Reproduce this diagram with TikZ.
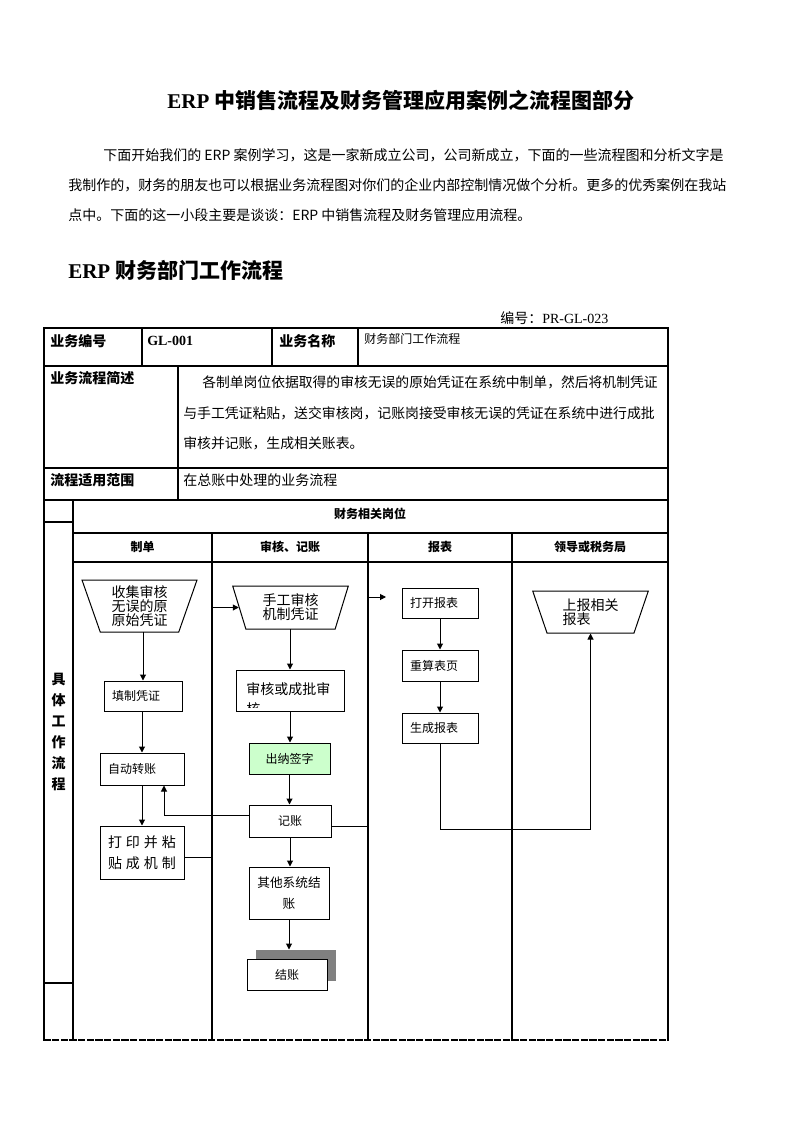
\documentclass[tikz,border=0pt]{standalone}
\usepackage{fontspec}
\setmainfont{Liberation Serif}
\newfontfamily\cjk{Noto Sans CJK SC}
\usetikzlibrary{shapes.geometric,arrows.meta,shadows}
\newdimen\px \px=0.75pt
\definecolor{cashiergreen}{HTML}{CCFFCC}
\definecolor{shadowgray}{HTML}{808080}
\begin{document}
\begin{tikzpicture}[x=0.75pt,y=-0.75pt,line cap=rect,
	rule/.style={line width=0.8pt},
	box/.style={draw,line width=0.75pt,fill=white,inner sep=0pt,align=center,font=\cjk\fontsize{9pt}{15.75pt}\selectfont},
	lbox/.style={box,align=left,inner xsep=8\px},
	trap/.style={draw,line width=0.75pt,trapezium,shape border rotate=180,trapezium stretches body,inner sep=0pt,align=center,font=\cjk\fontsize{10.5pt}{10.5pt}\selectfont},
	arr/.style={line width=0.75pt,-{Triangle[length=4.5pt,width=4.5pt]}},
	cell/.style={anchor=west,inner sep=0pt,font=\cjk\fontsize{10.5pt}{12pt}\selectfont},
	head/.style={cell,font=\cjk\bfseries\fontsize{10.5pt}{12pt}\selectfont},
	lane/.style={inner sep=0pt,font=\cjk\bfseries\fontsize{9pt}{11pt}\selectfont}]
	\useasboundingbox (0,0) rectangle (794,1123);
	% title and text
	\node[inner sep=0pt,font=\bfseries\fontsize{15.75pt}{18pt}\selectfont] (title) at (401,100) {ERP {\cjk 中销售流程及财务管理应用案例之流程图部分}};
	\node[cell] (para1) at (103,155) {下面开始我们的 ERP 案例学习，这是一家新成立公司，公司新成立，下面的一些流程图和分析文字是};
	\node[cell] (para2) at (68,185) {我制作的，财务的朋友也可以根据业务流程图对你们的企业内部控制情况做个分析。更多的优秀案例在我站};
	\node[cell] (para3) at (68,215) {点中。下面的这一小段主要是谈谈：ERP 中销售流程及财务管理应用流程。};
	\node[anchor=west,inner sep=0pt,font=\bfseries\fontsize{15.75pt}{18pt}\selectfont] (heading) at (68,270) {ERP {\cjk 财务部门工作流程}};
	\node[cell] (docno) at (500,318) {编号：{\rmfamily PR-GL-023}};
	% table rules
	\draw[rule] (44,1040) -- (44,328) -- (668,328) -- (668,1040);
	\foreach \y in {366,468,500} \draw[rule] (44,\y) -- (668,\y);
	\foreach \y in {533,562} \draw[rule] (73,\y) -- (668,\y);
	\foreach \y in {522,983} \draw[rule] (44,\y) -- (73,\y);
	\foreach \x in {142,272,358} \draw[rule] (\x,328) -- (\x,366);
	\draw[rule] (178,366) -- (178,500);
	\draw[rule] (73,500) -- (73,1040);
	\foreach \x in {212,368,512} \draw[rule] (\x,533) -- (\x,1040);
	\draw[rule,dash pattern=on 4.5pt off 2pt] (44,1040) -- (668,1040);
	% table texts
	\node[head] (noh) at (50,341) {业务编号};
	\node[cell,font=\bfseries\fontsize{10.5pt}{12pt}\selectfont] (no) at (147,341) {GL-001};
	\node[head] (nameh) at (279,341) {业务名称};
	\node[cell,font=\cjk\fontsize{9pt}{11pt}\selectfont] (name) at (364,339) {财务部门工作流程};
	\node[head] (briefh) at (50,378) {业务流程简述};
	\node[cell,font=\cjk\fontsize{10.35pt}{12pt}\selectfont] (brief1) at (202,382) {各制单岗位依据取得的审核无误的原始凭证在系统中制单，然后将机制凭证};
	\node[cell,font=\cjk\fontsize{10.4pt}{12pt}\selectfont] (brief2) at (183,413) {与手工凭证粘贴，送交审核岗，记账岗接受审核无误的凭证在系统中进行成批};
	\node[cell,font=\cjk\fontsize{10.4pt}{12pt}\selectfont] (brief3) at (183,443) {审核并记账，生成相关账表。};
	\node[head] (scopeh) at (50,480) {流程适用范围};
	\node[cell] (scopet) at (183,480) {在总账中处理的业务流程};
	\node[lane] (posts) at (370,514) {财务相关岗位};
	\node[lane] (lane1) at (142.5,547) {制单};
	\node[lane] (lane2) at (290,547) {审核、记账};
	\node[lane] (lane3) at (440,547) {报表};
	\node[lane] (lane4) at (590,547) {领导或税务局};
	\node[lane,align=center,font=\cjk\bfseries\fontsize{10.5pt}{15.75pt}\selectfont] (work) at (58.5,732) {具\\体\\工\\作\\流\\程};
	% 制单
	\node[trap,minimum width=115\px,minimum height=52\px,trapezium left angle=66,trapezium right angle=66] (collect) at (139.5,606) {收集审核\\无误的原\\原始凭证};
	\node[lbox,text width=62\px,minimum height=30\px] (fill) at (143,696) {填制凭证};
	\node[lbox,text width=68\px,minimum height=32\px] (auto) at (142,769) {自动转账};
	\node[box,minimum width=84\px,minimum height=53\px,font=\cjk\fontsize{10.5pt}{15.75pt}\selectfont] (print) at (142,852.5) {打\hspace{3pt}印\hspace{3pt}并\hspace{3pt}粘\\贴\hspace{3pt}成\hspace{3pt}机\hspace{3pt}制};
	% 审核、记账
	\node[trap,minimum width=115.6\px,minimum height=43\px,trapezium left angle=64,trapezium right angle=64] (manual) at (290.5,607.5) {手工审核\\机制凭证};
	\node[box,minimum width=108\px,minimum height=41\px] (verify) at (290,690.5) {};
	\begin{scope}
		\clip ([yshift=3pt]verify.south west) rectangle (verify.north east);
		\node[anchor=north west,inner sep=0pt,align=left,font=\cjk\fontsize{10.5pt}{15pt}\selectfont] (verifytext) at ([xshift=8pt,yshift=-9.5pt]verify.north west) {审核或成批审\\核};
	\end{scope}
	\node[box,fill=cashiergreen,minimum width=81\px,minimum height=31\px] (cashier) at (289.5,758.5) {出纳签字};
	\node[box,minimum width=82\px,minimum height=32\px] (post) at (290,821) {记账};
	\node[box,minimum width=80\px,minimum height=52\px,font=\cjk\fontsize{9.5pt}{15.75pt}\selectfont] (other) at (289,893) {其他系统结\\账};
	\node[box,minimum width=80\px,minimum height=31\px,drop shadow={shadow xshift=6.4pt,shadow yshift=6.75pt,fill=shadowgray,opacity=1}] (close) at (287,974.5) {结账};
	\coordinate (closetop) at ([yshift=6.75pt]close.north);
	% 报表
	\node[lbox,text width=60\px,minimum height=30\px] (open) at (440,603) {打开报表};
	\node[lbox,text width=60\px,minimum height=31\px] (recalc) at (440,665.5) {重算表页};
	\node[lbox,text width=60\px,minimum height=30\px] (gen) at (440,728) {生成报表};
	\coordinate (postout) at (386,597);
	% 领导或税务局
	\node[trap,minimum width=115.6\px,minimum height=42\px,trapezium left angle=62,trapezium right angle=62,align=left] (report) at (590.5,612) {上报相关\\报表};
	% connectors
	\draw[arr] (fill.north |- collect.south) -- (fill.north);
	\draw[arr] (fill.south -| auto.north) -- (auto.north);
	\draw[arr] (auto.south) -- (print.north);
	\draw[arr] ([yshift=-3.4pt]print.east) -- ++(28,0) |- (manual.west);
	\draw[arr] (verify.north |- manual.south) -- (verify.north);
	\draw[arr] (verify.south) -- (verify.south |- cashier.north);
	\draw[arr] (cashier.south) -- (cashier.south |- post.north);
	\draw[arr] (post.south) -- (post.south |- other.north);
	\draw[arr] (other.south) -- (other.south |- closetop);
	\draw[arr] ([yshift=4.5pt]post.west) -| ([xshift=16.5pt]auto.south);
	\draw[arr] ([yshift=-3.75pt]post.east) -| ([xshift=-18\px]postout) -- (postout);
	\draw[arr] (open.south) -- (recalc.north);
	\draw[arr] (recalc.south) -- (gen.north);
	\draw[arr] (gen.south) -- ++(0,86) -| (report.south);
\end{tikzpicture}
\end{document}
